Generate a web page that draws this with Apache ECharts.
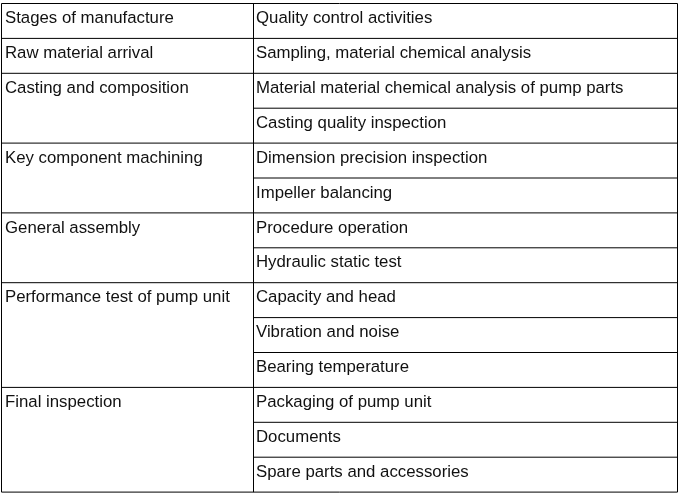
<!DOCTYPE html>
<html><head><meta charset="utf-8">
<script src="https://cdn.jsdelivr.net/npm/echarts@6/dist/echarts.min.js"></script>
<style>html,body{margin:0;padding:0;background:#fff}#c{width:680px;height:496px}</style>
</head><body><div id="c"></div>
<script>
const header = ["Stages of manufacture", "Quality control activities"];
const stages = ["Raw material arrival","Casting and composition","Key component machining","General assembly","Performance test of pump unit","Final inspection"];
const stageRowCounts = [1,2,2,2,3,3];
const activities = ["Sampling, material chemical analysis","Material material chemical analysis of pump parts","Casting quality inspection","Dimension precision inspection","Impeller balancing","Procedure operation","Hydraulic static test","Capacity and head","Vibration and noise","Bearing temperature","Packaging of pump unit","Documents","Spare parts and accessories"];

const L=1.5, R=677.5, M=253.5, T=3.5, H=34.9;
const nRows = activities.length + 1;
const g = [];
const font = '16.8px "Liberation Sans", Arial, sans-serif';
const line=(x1,y1,x2,y2)=>g.push({type:'line',shape:{x1,y1,x2,y2},style:{stroke:'#000',lineWidth:1}});
const text=(x,y,t)=>g.push({type:'text',x,y,style:{text:t,font,fill:'#111',textVerticalAlign:'middle',textBaseline:'middle'}});
line(L,T,R,T); line(L,T+nRows*H,R,T+nRows*H);
line(L,T,L,T+nRows*H); line(R,T,R,T+nRows*H); line(M,T,M,T+nRows*H);
text(5,T+15,header[0]); text(256,T+15,header[1]);
for(let i=0;i<activities.length;i++){
  const y=T+(i+1)*H;
  line(M,y,R,y);
  text(256,y+15,activities[i]);
}
let r=1;
for(let s=0;s<stages.length;s++){
  const y=T+r*H;
  line(L,y,M,y);
  text(5,y+15,stages[s]);
  r+=stageRowCounts[s];
}
const chart=echarts.init(document.getElementById('c'));
chart.setOption({backgroundColor:'#fff',graphic:{elements:g}});
</script></body></html>
